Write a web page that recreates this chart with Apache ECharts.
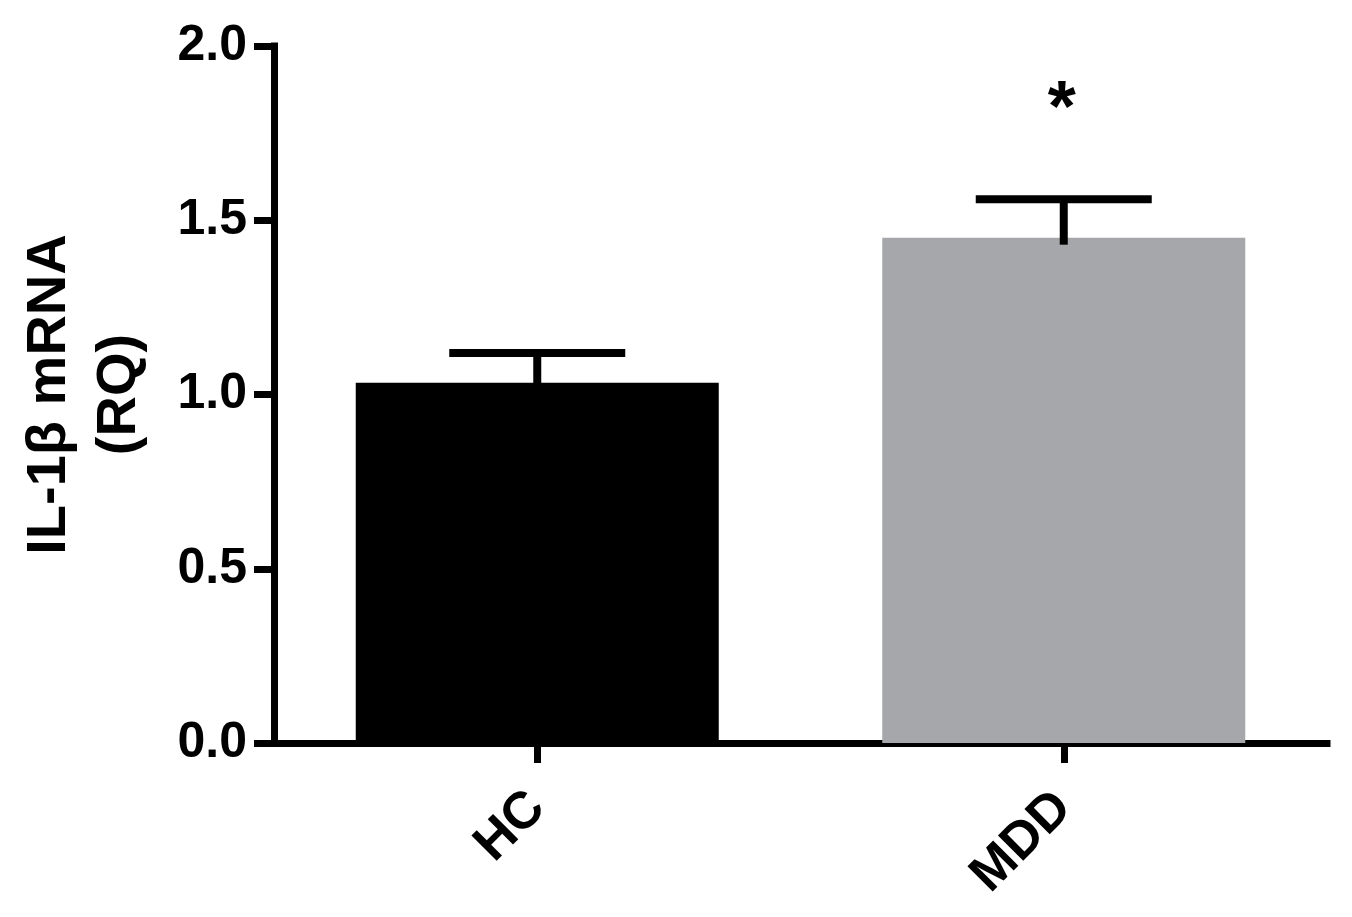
<!DOCTYPE html>
<html>
<head>
<meta charset="utf-8">
<script src="https://cdn.jsdelivr.net/npm/echarts@6/dist/echarts.min.js"></script>
<style>
html,body{margin:0;padding:0;background:#fff;}
#chart{width:1352px;height:917px;}
</style>
</head>
<body>
<div id="chart"></div>
<script>
const categories = ['HC', 'MDD'];
const means = [1.034, 1.450];
const errUpper = [1.119, 1.560];
const significance = ['', '*'];
const barColors = ['#000000', '#A6A7AA'];
const yTicks = [0, 0.5, 1.0, 1.5, 2.0];

const FONT = '"Liberation Sans", Arial, Helvetica, sans-serif';
const chart = echarts.init(document.getElementById('chart'), null, {renderer: 'canvas'});

const option = {
  backgroundColor: '#ffffff',
  animation: false,
  grid: {left: 274, right: 25, top: 46, bottom: 174, containLabel: false, outerBoundsMode: 'none'},
  xAxis: {
    type: 'category',
    data: categories,
    axisLine: {lineStyle: {color: '#000', width: 7, cap: 'square'}},
    axisTick: {show: true, alignWithLabel: true, length: 20, lineStyle: {color: '#000', width: 7}},
    axisLabel: {
      rotate: 45, margin: 57, color: '#000', fontSize: 52, fontWeight: 'bold', fontFamily: FONT
    }
  },
  yAxis: {
    type: 'value',
    min: yTicks[0],
    max: yTicks[yTicks.length - 1],
    interval: 0.5,
    name: 'IL-1\u03B2 mRNA\n(RQ)',
    nameLocation: 'middle',
    nameGap: 119,
    nameRotate: 90,
    nameTextStyle: {color: '#000', fontSize: 56, fontWeight: 'bold', fontFamily: FONT, lineHeight: 70, align: 'center'},
    splitLine: {show: false},
    axisLine: {show: true, lineStyle: {color: '#000', width: 7, cap: 'square'}},
    axisTick: {show: true, length: 20, lineStyle: {color: '#000', width: 7}},
    axisLabel: {
      margin: 27, color: '#000', fontSize: 50, fontWeight: 'bold', fontFamily: FONT,
      formatter: v => v.toFixed(1)
    }
  },
  series: [
    {
      type: 'bar',
      data: means.map((v, i) => ({value: v, itemStyle: {color: barColors[i]}})),
      barWidth: 363,
      z: 2
    },
    {
      type: 'custom',
      z: 3,
      data: categories.map((c, i) => [i, means[i], errUpper[i], significance[i]]),
      renderItem: function (params, api) {
        const x = api.value(0);
        const pMean = api.coord([x, api.value(1)]);
        const pHi = api.coord([x, api.value(2)]);
        const capHalf = 88;
        const children = [
          {type: 'line', shape: {x1: pMean[0], y1: pMean[1] + 7, x2: pHi[0], y2: pHi[1]},
           style: {stroke: '#000', lineWidth: 8}},
          {type: 'line', shape: {x1: pHi[0] - capHalf, y1: pHi[1], x2: pHi[0] + capHalf, y2: pHi[1]},
           style: {stroke: '#000', lineWidth: 8}}
        ];
        const sig = significance[params.dataIndex];
        if (sig) {
          children.push({type: 'text', x: pHi[0] - 2, y: pHi[1] - 88,
            style: {text: sig, fill: '#000', fontSize: 72, fontWeight: 'bold', fontFamily: FONT,
                    align: 'center', verticalAlign: 'middle'}});
        }
        return {type: 'group', children: children};
      }
    }
  ]
};
chart.setOption(option);
</script>
</body>
</html>
